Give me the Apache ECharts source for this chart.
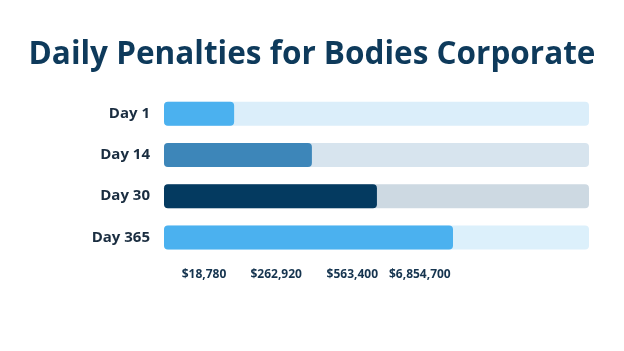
<!DOCTYPE html>
<html>
<head>
<meta charset="utf-8">
<script src="https://cdn.jsdelivr.net/npm/echarts@6/dist/echarts.min.js"></script>
<style>
  html, body { margin: 0; padding: 0; background: #fff; }
  #main { width: 624px; height: 351px; }
</style>
</head>
<body>
<div id="main"></div>
<script>
// categories and bar lengths (percent of the track)
var days = ['Day 1', 'Day 14', 'Day 30', 'Day 365'];
var fill = [16.5, 34.8, 50.1, 68];
var trackMax = [100, 100, 100, 100];
// penalty labels under the bars and where they sit on the 0-100 axis
var penaltyLabels = ['$18,780', '$262,920', '$563,400', '$6,854,700'];
var penaltyPos = [9.4, 26.4, 44.3, 60.2];

var barColors = ['#4bb1ef', '#3d86b9', '#043a60', '#4bb1ef'];
var trackColors = ['#dbeefa', '#d7e4ee', '#cdd9e2', '#dcf0fb'];

var chart = echarts.init(document.getElementById('main'));
var option = {
    animation: false,
    title: {
        text: 'Daily Penalties for Bodies Corporate',
        left: 'center',
        top: 34,
        textStyle: {
            fontFamily: 'Open Sans',
            fontWeight: 'bold',
            fontSize: 31.5,
            color: '#0e3a5b'
        }
    },
    grid: { left: 164, right: 35, top: 93, bottom: 93 },
    xAxis: {
        type: 'value',
        min: 0,
        max: 100,
        splitLine: { show: false },
        axisLine: { show: false },
        axisTick: { show: false },
        axisLabel: {
            customValues: penaltyPos,
            margin: 11,
            fontFamily: 'Open Sans',
            fontWeight: 'bold',
            fontSize: 12,
            color: '#15344f',
            formatter: function (v) {
                var i = penaltyPos.indexOf(v);
                return i >= 0 ? penaltyLabels[i] : '';
            }
        }
    },
    yAxis: {
        type: 'category',
        inverse: true,
        data: days,
        axisLine: { show: false },
        axisTick: { show: false },
        axisLabel: {
            margin: 14,
            fontFamily: 'Open Sans',
            fontWeight: 'bold',
            fontSize: 15,
            color: '#1a2d40'
        }
    },
    series: [{
        type: 'bar',
        barWidth: 24,
        silent: true,
        data: trackMax.map(function (v, i) {
            return { value: v, itemStyle: { color: trackColors[i] } };
        }),
        itemStyle: { borderRadius: 4 }
    }, {
        type: 'bar',
        barWidth: 24,
        barGap: '-100%',
        data: fill.map(function (v, i) {
            return { value: v, itemStyle: { color: barColors[i] } };
        }),
        itemStyle: { borderRadius: 4 }
    }]
};
chart.setOption(option);
</script>
</body>
</html>
